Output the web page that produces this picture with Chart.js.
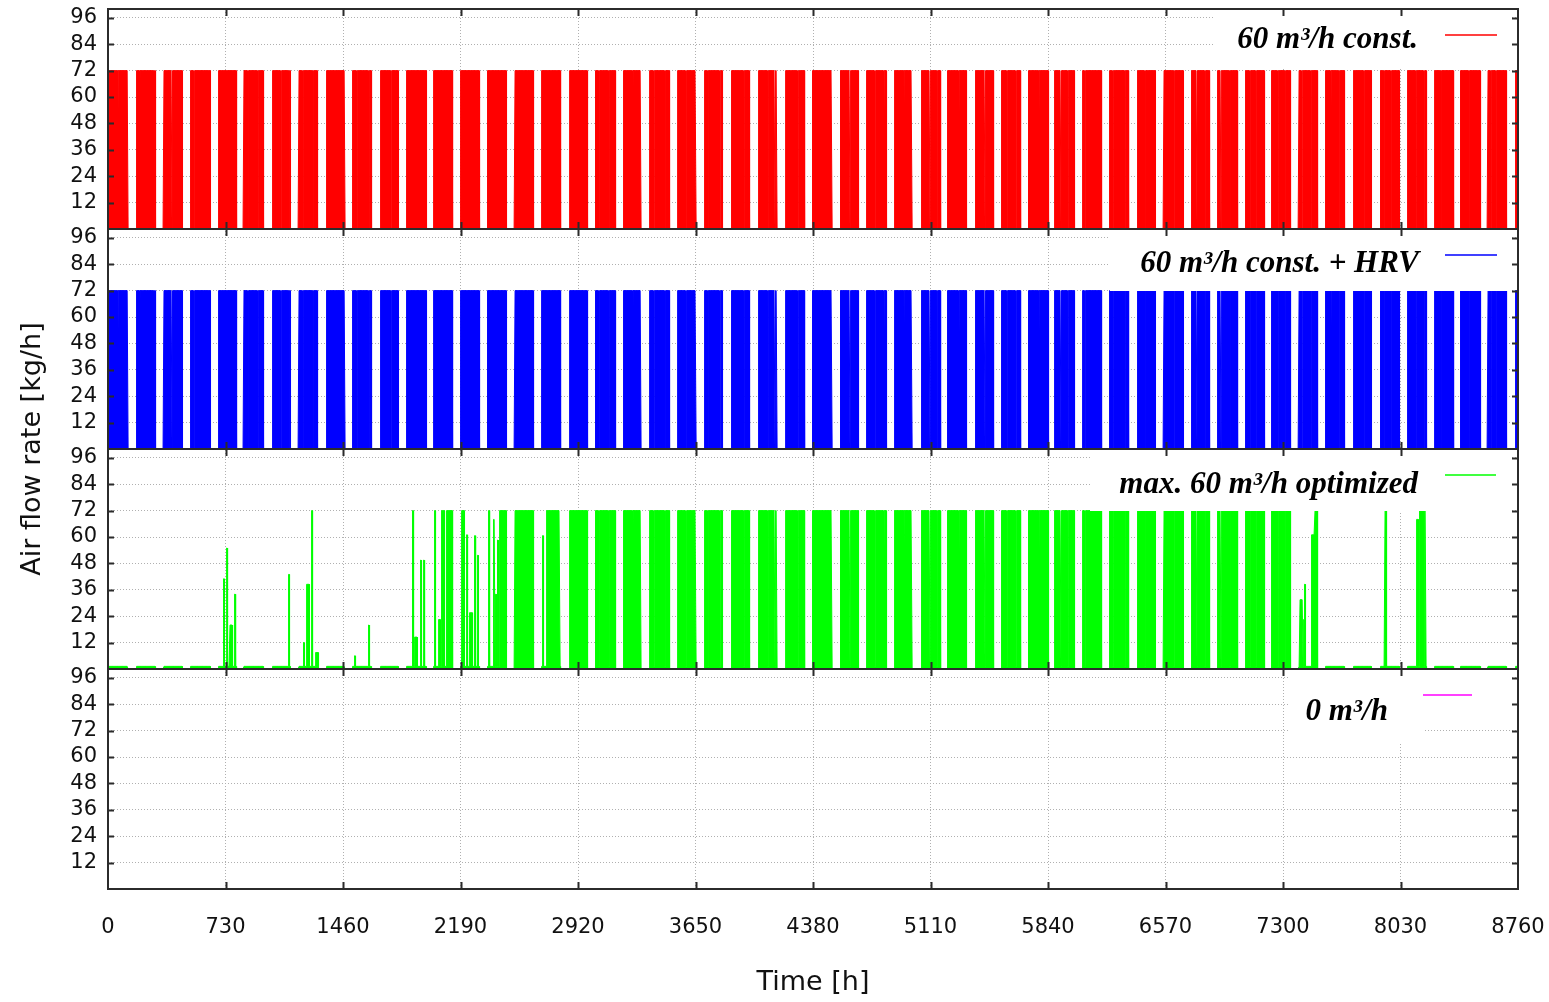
<!DOCTYPE html>
<html>
<head>
<meta charset="utf-8">
<script src="https://cdn.jsdelivr.net/npm/chart.js@4.4.1/dist/chart.umd.min.js"></script>
<style>
  html, body { margin: 0; padding: 0; background: #fff; }
  #wrap { width: 1549px; height: 1002px; }
</style>
</head>
<body>
<div id="wrap"><canvas id="chart" width="1549" height="1002"></canvas></div>
<script>
// tick labels
const hourTicks = [0, 730, 1460, 2190, 2920, 3650, 4380, 5110, 5840, 6570, 7300, 8030, 8760];
const flowTicks = [12, 24, 36, 48, 60, 72, 84, 96];

// kg/h levels
const onLevel = 72;
const idleLevel = 1.2;

// occupied blocks [start h, end h], read per week from the red panel
const constBlocks = [
  [0,124],[176,296],[348,462],[514,634],[685,797],[845,965],[1021,1135],[1187,1300],
  [1359,1472],[1520,1638],[1694,1804],[1856,1976],[2021,2142],[2191,2307],[2357,2477],
  [2529,2642],[2695,2813],[2866,2980],[3028,3152],[3204,3311],[3367,3487],[3539,3653],
  [3705,3819],[3875,3984],[4043,4156],[4212,4326],[4378,4498],[4550,4664],[4711,4834],
  [4885,4995],[5053,5171],[5217,5331],[5388,5503],[5550,5668],[5720,5844],[5882,6006],
  [6053,6171],[6223,6341],[6395,6507],[6561,6679],[6730,6845],[6896,7016],[7066,7182],
  [7227,7344],[7400,7513],[7565,7683],[7741,7849],[7907,8021],[8072,8193],[8243,8358],
  [8404,8524],[8574,8690],[8746,8760]
];

// short off periods inside the blocks (the thin white lines)
const constGaps = [
  [58,62],[194,198],[284,288],[398,401],[532,536],[868,872],[930,934],[1071,1075],
  [1123,1127],[1211,1215],[1273,1277],[1543,1547],[1619,1623],[1756,1760],[3050,3054],
  [3112,3116],[3257,3261],[3392,3396],[3460,3464],[3589,3593],[3724,3728],[3800,3804],
  [3951,3955],[4097,4101],[4144,4148],[4283,4287],[4610,4614],[4765,4769],[4817,4821],
  [4941,4945],[5107,5111],[5148,5152],[5283,5287],[5449,5453],[5583,5587],[5639,5643],
  [5780,5784],[5921,5925],[5962,5966],[6068,6072],[6242,6246],[6315,6319],[6439,6443],
  [6621,6625],[6766,6770],[6812,6816],[6915,6919],[6967,6971],[7091,7095],[7132,7136],
  [7267,7271],[7309,7313],[7418,7422],[7470,7474],[7594,7598],[7646,7650],[7801,7805],
  [7926,7930],[7968,7972],[8123,8127],[8175,8179],[8278,8282],[8454,8458],[8589,8593],
  [8623,8627]
];

// the HRV case runs on the same schedule in the plot
const hrvBlocks = constBlocks;

// optimized case: ventilation runs [start h, end h, kg/h]
const optRuns = [
  [719,724,41],[735,740,55],[758,774,20],[787,792,34],[1124,1129,43],[1216,1221,12],
  [1234,1251,38.5],[1267,1272,72],[1292,1306,7.5],[1533,1538,6],[1621,1626,20],
  [1891,1896,72],[1907,1921,14.5],[1941,1946,49.5],[1961,1966,49.5],[2030,2035,72],
  [2052,2067,22.5],[2073,2088,72],[2104,2141,72],[2197,2212,72],[2227,2232,61],
  [2249,2266,25.6],[2278,2283,60.6],[2295,2300,51.7],[2367,2372,72],[2394,2404,68],
  [2409,2414,34],[2419,2424,58.6],[2435,2477,72],[2529,2642,72],[2699,2704,60.6],
  [2726,2808,72],
  [2866,2980,72],[3028,3152,72],[3204,3311,72],[3367,3487,72],[3539,3653,72],
  [3705,3819,72],[3875,3984,72],[4043,4156,72],[4212,4326,72],[4378,4498,72],
  [4550,4664,72],[4711,4834,72],[4885,4995,72],[5053,5171,72],[5217,5331,72],
  [5388,5503,72],[5550,5668,72],[5720,5844,72],[5882,6006,72],[6053,6171,72],
  [6223,6341,72],[6395,6507,72],[6561,6679,72],[6730,6845,72],[6896,7016,72],
  [7066,7182,72],[7227,7344,72],
  [7406,7424,31.5],[7430,7441,22.5],[7435,7440,38.5],[7478,7499,61],[7499,7513,72],
  [7934,7940,72],[8131,8141,68],[8151,8188,72]
];

const seriesNames = ['60 m³/h const.', '60 m³/h const. + HRV', 'max. 60 m³/h optimized', '0 m³/h'];
const seriesColors = ['#ff0000', '#0000ff', '#00ff00', '#ff00ff'];

const lastHour = hourTicks[hourTicks.length - 1];

function blankYear() {
  return new Array(lastHour + 1).fill(0);
}

function fromBlocks(blocks, gaps, level) {
  var v = blankYear();
  blocks.forEach(([a, b]) => { for (let h = a; h <= b; h++) v[h] = level; });
  gaps.forEach(([a, b]) => { for (let h = a; h <= b; h++) v[h] = 0; });
  return v;
}

function optimized() {
  var v = fromBlocks(constBlocks, [], idleLevel);
  optRuns.forEach(([a, b, y]) => { for (let h = a; h <= b; h++) v[h] = y; });
  // the thin off lines only show inside full-rate stretches
  constGaps.forEach(([a, b]) => {
    if (v[a - 1] !== onLevel || v[b + 1] !== onLevel) return;
    for (let h = a; h <= b; h++) v[h] = idleLevel;
  });
  return v;
}

function toPoints(v) {
  return v.map((y, h) => ({ x: h, y: y }));
}

const values = [
  fromBlocks(constBlocks, constGaps, onLevel),
  fromBlocks(hrvBlocks, constGaps, onLevel),
  optimized(),
  blankYear()
];

// panels from top to bottom
const panelIds = ['yA', 'yB', 'yC', 'yD'];

const tickFont = { family: 'DejaVu Sans', size: 21 };
const gridColor = '#b0b0b0';

function noPadding(s) {
  s.paddingTop = 0; s.paddingBottom = 0; s.paddingLeft = 0; s.paddingRight = 0;
}

function yScale() {
  return {
    type: 'linear',
    position: 'left',
    stack: 'panels',
    stackWeight: 1,
    min: 0,
    max: 100,
    afterBuildTicks: s => { s.ticks = flowTicks.map(v => ({ value: v })); },
    afterFit: s => { s.width = 108; noPadding(s); },
    ticks: { font: tickFont, color: '#111', padding: 11, autoSkip: false, callback: v => String(v) },
    grid: { color: gridColor, drawTicks: false, lineWidth: 1 },
    border: { display: false, dash: [1, 2] }
  };
}

var scales = {
  x: {
    type: 'linear',
    min: 0,
    max: lastHour,
    afterBuildTicks: s => { s.ticks = hourTicks.map(v => ({ value: v })); },
    afterFit: s => { s.height = 113; noPadding(s); },
    ticks: {
      font: tickFont, color: '#111', padding: 26, maxRotation: 0, autoSkip: false,
      callback: v => String(v)
    },
    grid: { color: gridColor, drawTicks: false, lineWidth: 1 },
    border: { display: false, dash: [1, 2] },
    title: {
      display: true, text: 'Time [h]', color: '#111',
      font: { family: 'DejaVu Sans', size: 27 }, padding: { top: 0, bottom: 3 }
    }
  }
};
// bottom panel first, the stack grows upwards
panelIds.slice().reverse().forEach(id => { scales[id] = yScale(); });

// legend placement relative to each panel top / chart right edge
const legendSpots = [
  { textRight: 100, textMid: 31, sample: [73, 21], box: [[305, 8, 59]] },
  { textRight: 99,  textMid: 35, sample: [73, 21], box: [[408, 8, 61]] },
  { textRight: 100, textMid: 35.5, sample: [73, 22], box: [[428, 8, 61]] },
  { textRight: 130, textMid: 43, sample: [95, 46], box: [[228, 95, 74], [95, 8, 52]] }
];

const panelPlugin = {
  id: 'panels',
  afterDraw(chart) {
    var ctx = chart.ctx;
    var area = chart.chartArea;
    var xs = chart.scales.x;

    panelIds.forEach((id, i) => {
      var s = chart.scales[id];
      var spot = legendSpots[i];
      var T = s.top;

      ctx.save();
      ctx.fillStyle = '#ffffff';
      spot.box.forEach(([l, r, h]) => {
        ctx.fillRect(area.right - l, T + 1, l - r, h);
      });

      ctx.font = 'italic bold 31px "Liberation Serif"';
      ctx.fillStyle = '#000000';
      ctx.textAlign = 'right';
      ctx.textBaseline = 'middle';
      ctx.fillText(seriesNames[i], area.right - spot.textRight, T + spot.textMid);

      ctx.strokeStyle = seriesColors[i];
      ctx.lineWidth = 1.5;
      ctx.beginPath();
      ctx.moveTo(area.right - spot.sample[0], T + 26);
      ctx.lineTo(area.right - spot.sample[1], T + 26);
      ctx.stroke();

      // frame and inward ticks
      ctx.strokeStyle = '#2b2b2b';
      ctx.lineWidth = 2;
      ctx.strokeRect(area.left, s.top, area.right - area.left, s.bottom - s.top);
      ctx.beginPath();
      flowTicks.forEach(v => {
        var y = Math.round(s.getPixelForValue(v)) + 0.5;
        ctx.moveTo(area.left, y); ctx.lineTo(area.left + 6, y);
        ctx.moveTo(area.right, y); ctx.lineTo(area.right - 6, y);
      });
      hourTicks.slice(1, -1).forEach(h => {
        var x = Math.round(xs.getPixelForValue(h)) + 0.5;
        ctx.moveTo(x, s.top); ctx.lineTo(x, s.top + 7);
        ctx.moveTo(x, s.bottom); ctx.lineTo(x, s.bottom - 7);
      });
      ctx.stroke();
      ctx.restore();
    });

    // y title spans all four panels
    ctx.save();
    ctx.translate(33, (area.top + area.bottom) / 2);
    ctx.rotate(-Math.PI / 2);
    ctx.font = '27px "DejaVu Sans"';
    ctx.fillStyle = '#111';
    ctx.textAlign = 'center';
    ctx.textBaseline = 'middle';
    ctx.fillText('Air flow rate [kg/h]', 0, 0);
    ctx.restore();
  }
};

var myChart = new Chart(document.getElementById('chart').getContext('2d'), {
  type: 'line',
  data: {
    datasets: values.map((v, i) => ({
      label: seriesNames[i],
      data: toPoints(v),
      yAxisID: panelIds[i],
      borderColor: seriesColors[i],
      backgroundColor: seriesColors[i],
      borderWidth: 1,
      fill: 'origin',
      pointRadius: 0,
      tension: 0
    }))
  },
  options: {
    responsive: false,
    animation: false,
    devicePixelRatio: 1,
    parsing: false,
    normalized: true,
    layout: { padding: { top: 9, right: 31, left: 0, bottom: 0 } },
    plugins: { legend: { display: false }, tooltip: { enabled: false } },
    scales: scales
  },
  plugins: [panelPlugin]
});
</script>
</body>
</html>
